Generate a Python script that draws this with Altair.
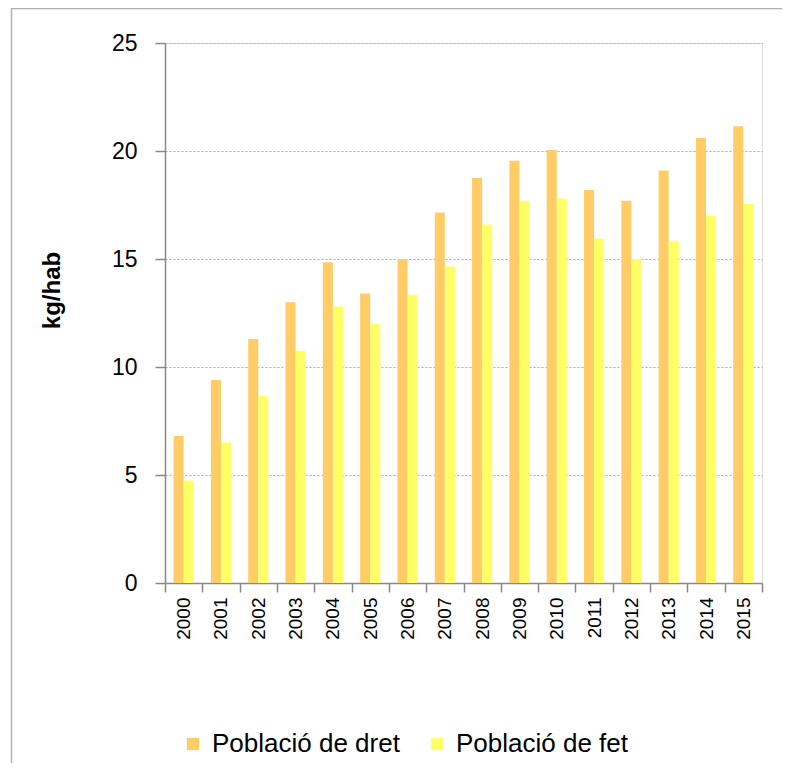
import altair as alt
import pandas as pd

years = [str(y) for y in range(2000, 2016)]
series = ["Població de dret", "Població de fet"]
dret = [6.8, 9.4, 11.3, 13.0, 14.85, 13.4, 15.0, 17.15, 18.75, 19.55, 20.05, 18.2, 17.7, 19.1, 20.6, 21.15]
fet = [4.75, 6.5, 8.65, 10.75, 12.8, 12.0, 13.35, 14.65, 16.6, 17.7, 17.8, 15.95, 15.0, 15.85, 17.0, 17.55]
colors = ["#FFCC66", "#FFFF66"]
y_ticks = [0, 5, 10, 15, 20, 25]

df = pd.DataFrame({
    "any": years * 2,
    "serie": [series[0]] * len(years) + [series[1]] * len(years),
    "valor": dret + fet,
})

FONT = "Liberation Sans"

bars = alt.Chart(df).mark_bar().encode(
    x=alt.X("any:N", sort=years,
            scale=alt.Scale(paddingInner=0, paddingOuter=0),
            axis=alt.Axis(title=None, labelAngle=-90, tickBand="extent",
                          labelFontSize=19, labelPadding=5, tickSize=9,
                          domainColor="#888", tickColor="#888", domainWidth=1.5,
                          tickWidth=1.5, labelColor="#000", grid=False)),
    xOffset=alt.XOffset("serie:N", sort=series,
                        scale=alt.Scale(paddingInner=0, paddingOuter=0.85)),
    y=alt.Y("valor:Q", scale=alt.Scale(domain=[0, 25], nice=False),
            axis=alt.Axis(title="kg/hab", values=y_ticks, grid=True,
                          gridDash=[2, 2], gridColor="#aaa", gridWidth=1,
                          labelFontSize=23, labelPadding=18, tickSize=10,
                          domainColor="#888", tickColor="#888", domainWidth=1.5,
                          tickWidth=1.5, labelColor="#000",
                          titleFontSize=24, titleFontWeight="bold", titleColor="#000",
                          titleX=-101, titleY=247)),
    color=alt.Color("serie:N", scale=alt.Scale(domain=series, range=colors),
                    legend=alt.Legend(title=None, orient="none", legendX=15, legendY=688,
                                      direction="horizontal", symbolType="square",
                                      symbolSize=150, symbolStrokeWidth=0,
                                      labelFontSize=26, labelColor="#000", labelLimit=500,
                                      labelOffset=6, columnPadding=24)),
)

border = alt.Chart(pd.DataFrame({"a": [0]})).mark_rect(
    filled=False, stroke="#b0b0b0", strokeWidth=1.5
).encode(
    x=alt.value(-153.5), x2=alt.value(800), y=alt.value(-34.5), y2=alt.value(900)
)

chart = alt.layer(border, bars).properties(
    width=597, height=540,
    autosize=alt.AutoSizeParams(type="none"),
    padding={"left": 157, "top": 35, "right": 20, "bottom": 180},
).configure_view(stroke=None).configure(
    font=FONT
).configure_axis(labelFont=FONT, titleFont=FONT).configure_legend(labelFont=FONT)

chart.save("out.html", embed_options={"renderer": "svg", "actions": False})
